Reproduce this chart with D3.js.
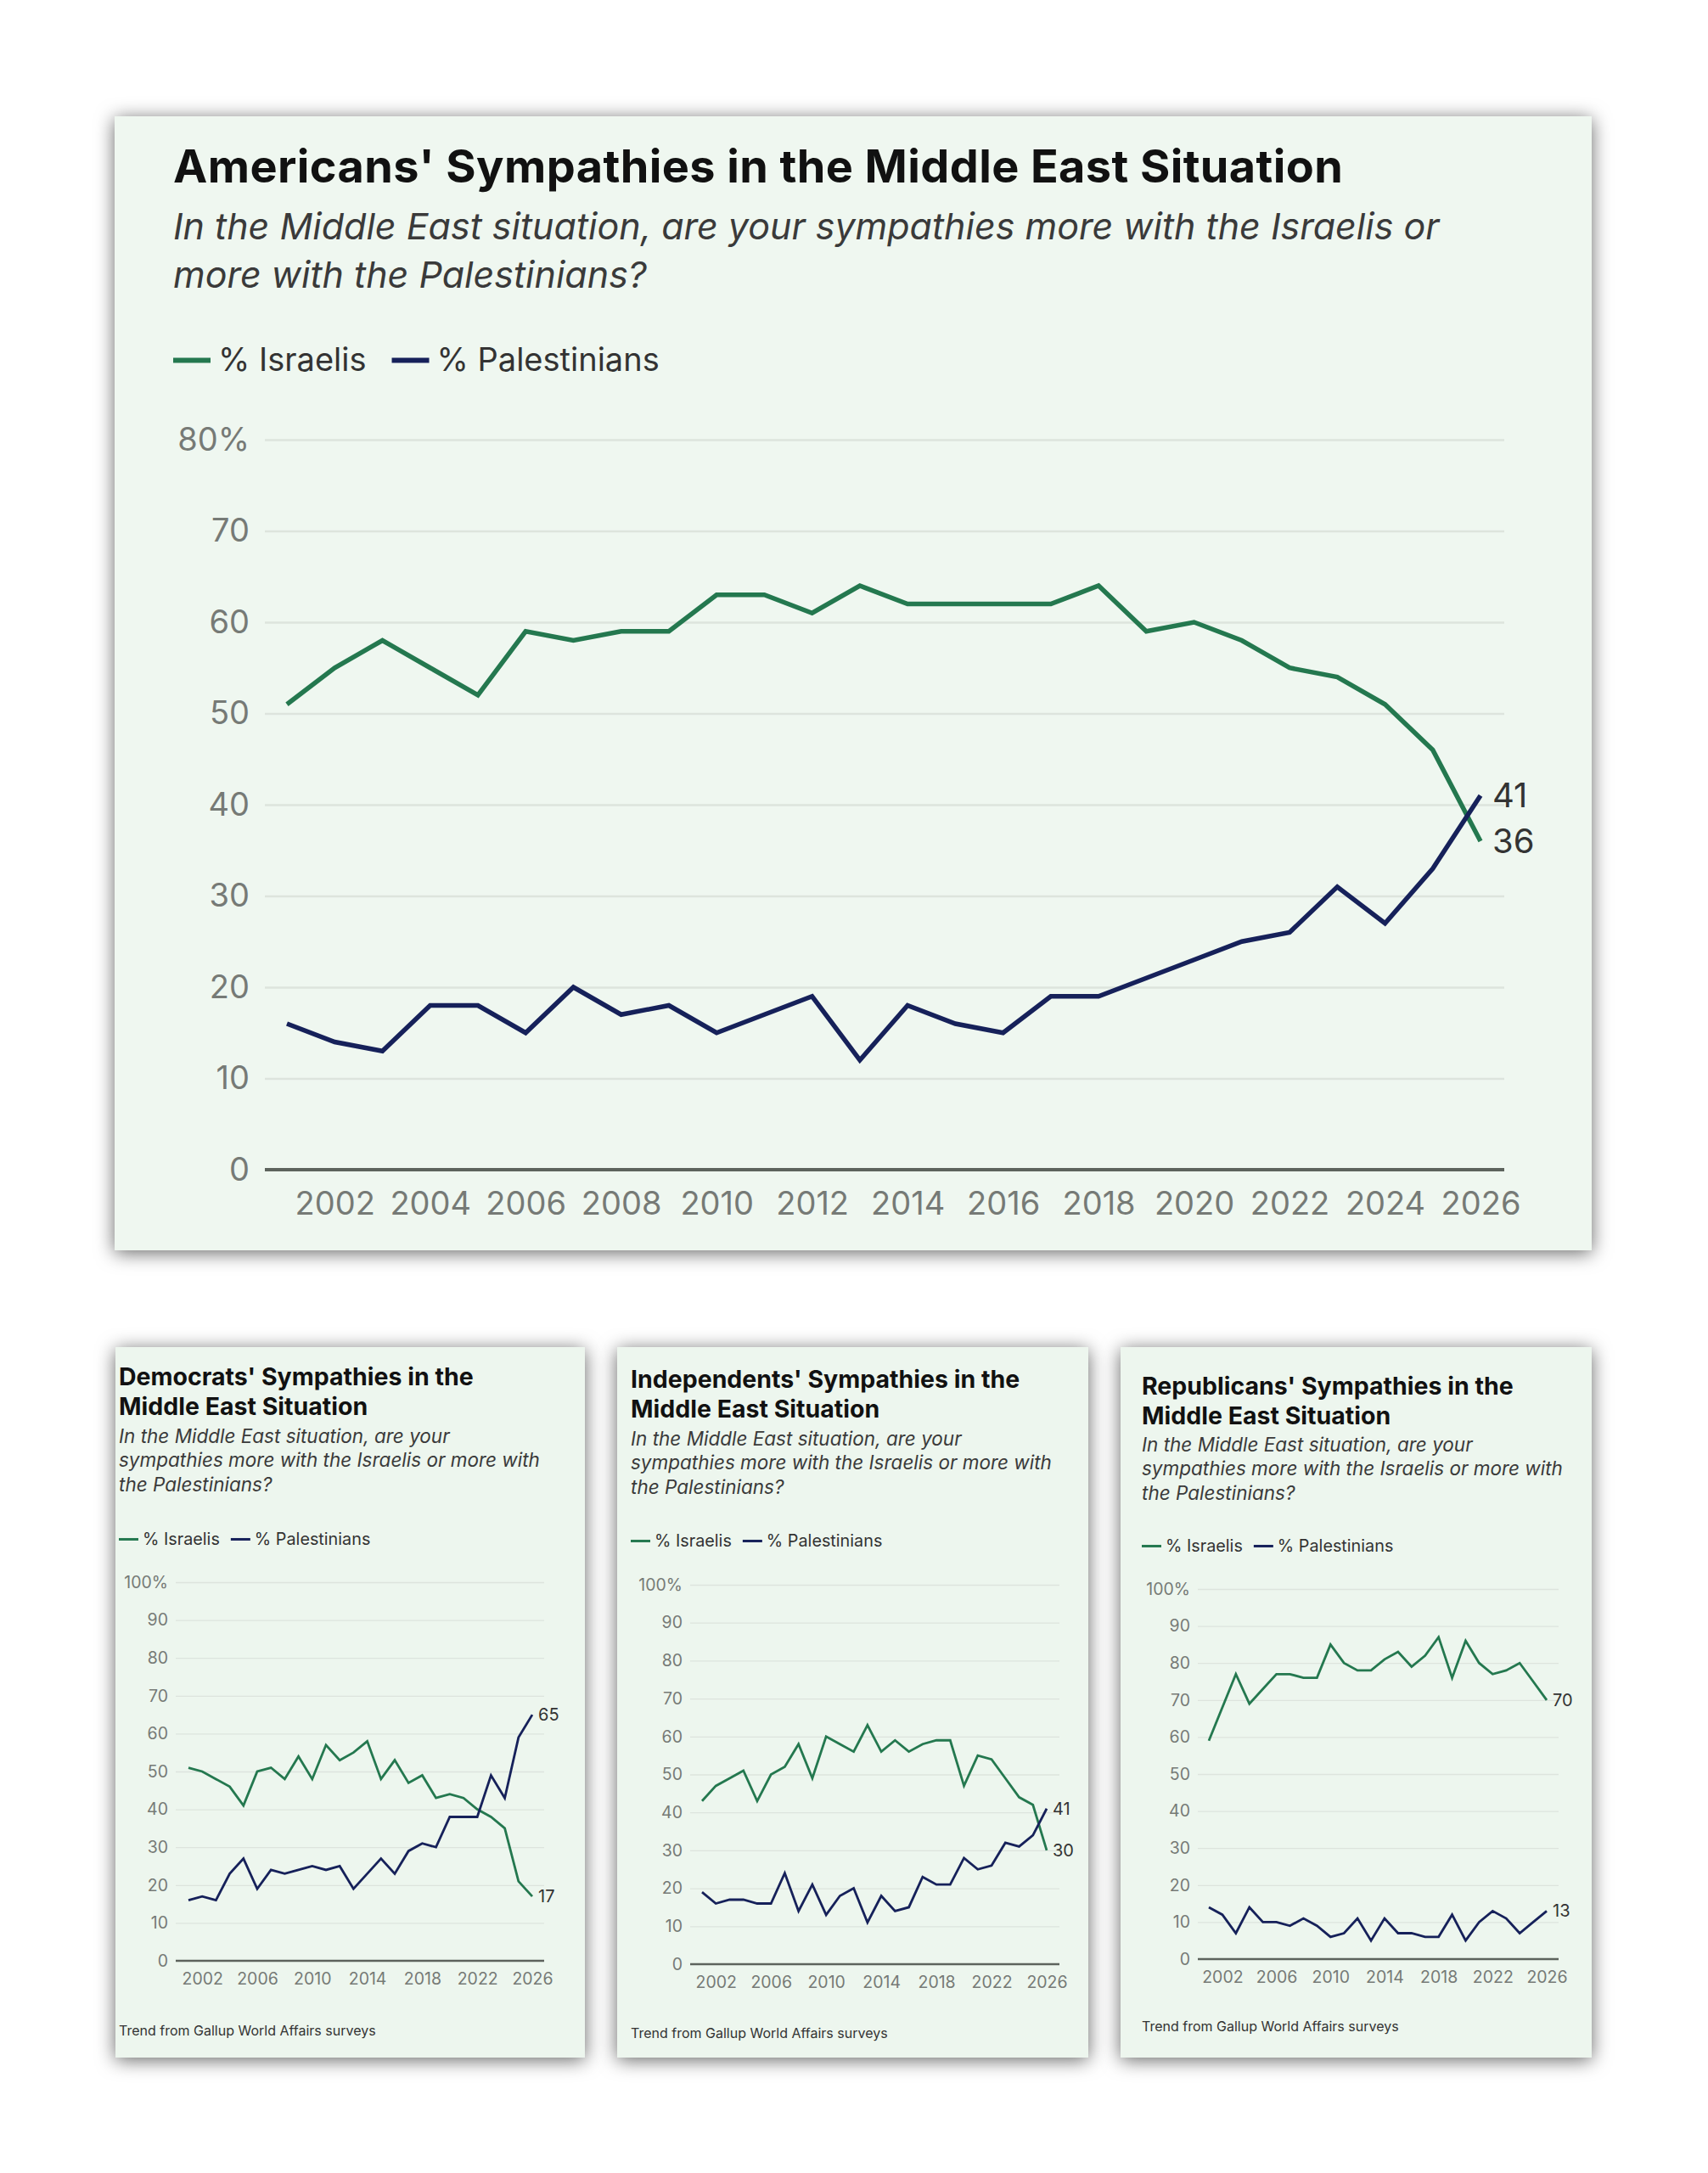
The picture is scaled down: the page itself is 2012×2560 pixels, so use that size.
<!DOCTYPE html>
<html>
<head>
<meta charset="utf-8">
<script src="https://cdn.jsdelivr.net/npm/d3@7/dist/d3.min.js"></script>
<style>
  body { margin: 0; background: #ffffff; }
  svg { display: block; font-family: Inter, "Noto Sans", sans-serif; }
</style>
</head>
<body>
<svg id="chart" width="2012" height="2560"></svg>
<script>
// survey years (x categories)
const years = [2001, 2002, 2003, 2004, 2005, 2006, 2007, 2008, 2009, 2010, 2011, 2012, 2013,
               2014, 2015, 2016, 2017, 2018, 2019, 2020, 2021, 2022, 2023, 2024, 2025, 2026];

// all Americans
const allIsraelis    = [51, 55, 58, 55, 52, 59, 58, 59, 59, 63, 63, 61, 64, 62, 62, 62, 62, 64, 59, 60, 58, 55, 54, 51, 46, 36];
const allPalestinians = [16, 14, 13, 18, 18, 15, 20, 17, 18, 15, 17, 19, 12, 18, 16, 15, 19, 19, 21, 23, 25, 26, 31, 27, 33, 41];

// Democrats
const demIsraelis    = [51, 50, 48, 46, 41, 50, 51, 48, 54, 48, 57, 53, 55, 58, 48, 53, 47, 49, 43, 44, 43, 40, 38, 35, 21, 17];
const demPalestinians = [16, 17, 16, 23, 27, 19, 24, 23, 24, 25, 24, 25, 19, 23, 27, 23, 29, 31, 30, 38, 38, 38, 49, 43, 59, 65];

// Independents
const indIsraelis    = [43, 47, 49, 51, 43, 50, 52, 58, 49, 60, 58, 56, 63, 56, 59, 56, 58, 59, 59, 47, 55, 54, 49, 44, 42, 30];
const indPalestinians = [19, 16, 17, 17, 16, 16, 24, 14, 21, 13, 18, 20, 11, 18, 14, 15, 23, 21, 21, 28, 25, 26, 32, 31, 34, 41];

// Republicans
const repIsraelis    = [59, 68, 77, 69, 73, 77, 77, 76, 76, 85, 80, 78, 78, 81, 83, 79, 82, 87, 76, 86, 80, 77, 78, 80, 75, 70];
const repPalestinians = [14, 12, 7, 14, 10, 10, 9, 11, 9, 6, 7, 11, 5, 11, 7, 7, 6, 6, 12, 5, 10, 13, 11, 7, 10, 13];

// ticks
const mainYTicks = [0, 10, 20, 30, 40, 50, 60, 70, 80];
const mainXTicks = [2002, 2004, 2006, 2008, 2010, 2012, 2014, 2016, 2018, 2020, 2022, 2024, 2026];
const smallYTicks = [0, 10, 20, 30, 40, 50, 60, 70, 80, 90, 100];
const smallXTicks = [2002, 2006, 2010, 2014, 2018, 2022, 2026];

const seriesNames = ['% Israelis', '% Palestinians'];

const GREEN = '#24784f';
const NAVY = '#16215a';

const svg = d3.select('#chart');
svg.append('rect').attr('width', 2012).attr('height', 2560).attr('fill', '#ffffff');

const defs = svg.append('defs');
const f = defs.append('filter').attr('id', 'shadow')
  .attr('x', '-10%').attr('y', '-10%').attr('width', '120%').attr('height', '120%');
f.append('feDropShadow').attr('dx', 0).attr('dy', 3).attr('stdDeviation', 11)
  .attr('flood-color', '#000').attr('flood-opacity', 0.6);

function panelBox(p) {
  svg.append('rect')
    .attr('x', p.x).attr('y', p.y).attr('width', p.w).attr('height', p.h)
    .attr('fill', p.bg).attr('filter', 'url(#shadow)');
}

function legend(g, x, y, o) {
  const cols = [GREEN, NAVY];
  let cx = x;
  seriesNames.forEach((name, i) => {
    g.append('line').attr('x1', cx).attr('x2', cx + o.sw).attr('y1', y - o.fs * 0.33).attr('y2', y - o.fs * 0.33)
      .attr('stroke', cols[i]).attr('stroke-width', o.sh);
    const t = g.append('text').attr('x', cx + o.sw + o.gap).attr('y', y)
      .attr('font-size', o.fs).attr('fill', '#333').text(name);
    cx = cx + o.sw + o.gap + t.node().getComputedTextLength() + o.itemGap;
  });
}

function drawPlot(g, o, isr, pal) {
  const x = d3.scaleLinear().domain([years[0], years[years.length - 1]]).range([o.x0, o.x1]);
  const y = d3.scaleLinear().domain([0, o.yMax]).range([o.yBase, o.yTop]);

  // gridlines + y labels
  const yAxis = d3.axisLeft(y).tickValues(o.yTicks)
    .tickSize(-(o.gridR - o.gridL))
    .tickPadding(o.yPad)
    .tickFormat(d => d === o.yMax ? d + '%' : d);
  const ya = g.append('g').attr('transform', `translate(${o.gridL},0)`).call(yAxis);
  ya.select('.domain').remove();
  ya.selectAll('.tick line').attr('stroke', '#dde4dd').attr('stroke-width', o.gridW)
    .filter(d => d === 0).remove();
  ya.selectAll('.tick text').attr('font-size', o.fs).attr('fill', '#767a76')
    .attr('font-family', 'Inter, "Noto Sans", sans-serif');

  // baseline
  g.append('line').attr('x1', o.gridL).attr('x2', o.gridR).attr('y1', y(0)).attr('y2', y(0))
    .attr('stroke', '#5d635d').attr('stroke-width', o.baseW);

  // x labels
  const xAxis = d3.axisBottom(x).tickValues(o.xTicks).tickSize(0).tickPadding(o.xPad).tickFormat(d => d);
  const xa = g.append('g').attr('transform', `translate(0,${y(0)})`).call(xAxis);
  xa.select('.domain').remove();
  xa.selectAll('.tick text').attr('font-size', o.fs).attr('fill', '#767a76')
    .attr('font-family', 'Inter, "Noto Sans", sans-serif');

  const line = d3.line().x(d => x(d[0])).y(d => y(d[1]));
  [[isr, GREEN], [pal, NAVY]].forEach(([vals, col]) => {
    g.append('path').datum(years.map((yr, i) => [yr, vals[i]]))
      .attr('d', line).attr('fill', 'none').attr('stroke', col)
      .attr('stroke-width', o.lineW).attr('stroke-linejoin', 'miter');
    const last = vals[vals.length - 1];
    g.append('text').attr('x', x(years[years.length - 1]) + o.endGap).attr('y', y(last))
      .attr('dy', '0.35em').attr('font-size', o.endFs).attr('fill', '#333').text(last);
  });
}

// ---------- main panel ----------
panelBox({x: 135, y: 137, w: 1740, h: 1336, bg: '#eff7f0'});
const main = svg.append('g');
main.append('text').attr('x', 204).attr('y', 215).attr('font-size', 54).attr('font-weight', 700)
  .attr('fill', '#111').attr('letter-spacing', 0.4).text("Americans' Sympathies in the Middle East Situation");
main.append('text').attr('x', 204).attr('y', 282).attr('font-size', 43).attr('font-style', 'italic')
  .attr('fill', '#3a3a3a').text('In the Middle East situation, are your sympathies more with the Israelis or');
main.append('text').attr('x', 204).attr('y', 339).attr('font-size', 43).attr('font-style', 'italic')
  .attr('fill', '#3a3a3a').text('more with the Palestinians?');
legend(main, 204, 437, {fs: 38, sw: 44, sh: 6, gap: 9, itemGap: 30});
drawPlot(main, {
  x0: 338, x1: 1744, gridL: 312, gridR: 1772, yTop: 518, yBase: 1378, yMax: 80,
  yTicks: mainYTicks, xTicks: mainXTicks, fs: 38, yPad: 18, xPad: 26,
  gridW: 2.5, baseW: 4, lineW: 5.5, endGap: 14, endFs: 40
}, allIsraelis, allPalestinians);

// ---------- small panels ----------
const smallPanels = [
  {title: ["Democrats' Sympathies in the", 'Middle East Situation'], isr: demIsraelis, pal: demPalestinians,
   box: {x: 136, y: 1587, w: 553, h: 837}, tx: 140, titleY: [1632, 1667], subY: [1700, 1728, 1757], legY: 1820,
   gridL: 207, gridR: 641, x0: 222, x1: 627, yTop: 1864, yBase: 2310, footY: 2398},
  {title: ["Independents' Sympathies in the", 'Middle East Situation'], isr: indIsraelis, pal: indPalestinians,
   box: {x: 727, y: 1587, w: 555, h: 837}, tx: 743, titleY: [1635, 1670], subY: [1703, 1731, 1760], legY: 1822,
   gridL: 813, gridR: 1248, x0: 827, x1: 1233, yTop: 1867, yBase: 2314, footY: 2401},
  {title: ["Republicans' Sympathies in the", 'Middle East Situation'], isr: repIsraelis, pal: repPalestinians,
   box: {x: 1320, y: 1587, w: 555, h: 837}, tx: 1345, titleY: [1643, 1678], subY: [1710, 1738, 1767], legY: 1828,
   gridL: 1411, gridR: 1836, x0: 1424, x1: 1822, yTop: 1872, yBase: 2308, footY: 2393}
];
const subLines = ['In the Middle East situation, are your', 'sympathies more with the Israelis or more with', 'the Palestinians?'];

smallPanels.forEach(p => {
  panelBox(Object.assign({bg: '#edf6ee'}, p.box));
  const g = svg.append('g');
  p.title.forEach((t, i) => g.append('text').attr('x', p.tx).attr('y', p.titleY[i])
    .attr('font-size', 28.5).attr('font-weight', 700).attr('fill', '#111').text(t));
  subLines.forEach((t, i) => g.append('text').attr('x', p.tx).attr('y', p.subY[i])
    .attr('font-size', 22.5).attr('font-style', 'italic').attr('fill', '#3a3a3a').text(t));
  legend(g, p.tx, p.legY, {fs: 19.8, sw: 23, sh: 3, gap: 5, itemGap: 13});
  drawPlot(g, {
    x0: p.x0, x1: p.x1, gridL: p.gridL, gridR: p.gridR, yTop: p.yTop, yBase: p.yBase, yMax: 100,
    yTicks: smallYTicks, xTicks: smallXTicks, fs: 19.5, yPad: 9, xPad: 14,
    gridW: 1.3, baseW: 2.5, lineW: 2.8, endGap: 7, endFs: 20
  }, p.isr, p.pal);
  g.append('text').attr('x', p.tx).attr('y', p.footY).attr('font-size', 16).attr('fill', '#333')
    .text('Trend from Gallup World Affairs surveys');
});
</script>
</body>
</html>
